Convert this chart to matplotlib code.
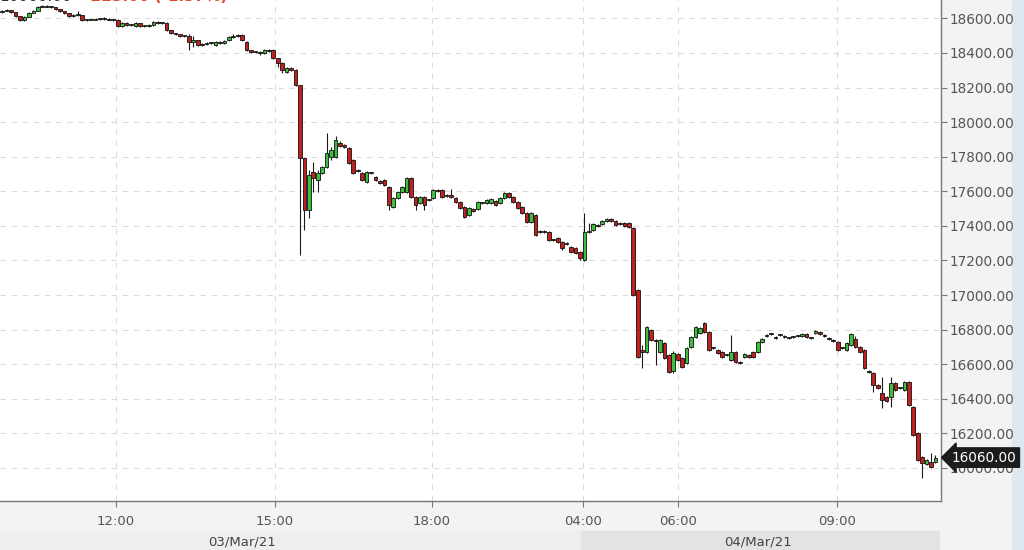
import numpy as np
import matplotlib.pyplot as plt
from matplotlib.patches import Rectangle
from matplotlib.transforms import blended_transform_factory

# 5-minute candles, 03/Mar/21 09:50 session through 04/Mar/21 morning
OPEN = [
    18636, 18642, 18648, 18636, 18613, 18590, 18608, 18631, 18642, 18665,
    18671, 18668, 18665, 18654, 18642, 18631, 18613, 18619, 18619, 18590,
    18593, 18593, 18596, 18596, 18599, 18593, 18593, 18555, 18573, 18561,
    18555, 18573, 18555, 18555, 18561, 18579, 18573, 18573, 18532, 18515,
    18509, 18498, 18498, 18463, 18475, 18446, 18451, 18457, 18446, 18463,
    18457, 18475, 18492, 18498, 18503, 18463, 18417, 18405, 18405, 18399,
    18411, 18417, 18370, 18342, 18290, 18313, 18301, 18214, 17792, 17492,
    17711, 17665, 17706, 17740, 17798, 17798, 17879, 17867, 17850, 17781,
    17723, 17706, 17653, 17706, 17682, 17659, 17665, 17625, 17509, 17561,
    17596, 17596, 17677, 17567, 17532, 17567, 17550, 17561, 17607, 17607,
    17573, 17578, 17561, 17538, 17509, 17463, 17497, 17497, 17532, 17532,
    17532, 17544, 17532, 17561, 17590, 17567, 17538, 17509, 17474, 17422,
    17463, 17364, 17370, 17364, 17318, 17330, 17307, 17295, 17278, 17272,
    17249, 17203, 17364, 17376, 17405, 17411, 17428, 17440, 17428, 17411,
    17416, 17416, 17388, 17029, 16682, 16670, 16798, 16740, 16670, 16723,
    16653, 16561, 16659, 16636, 16607, 16699, 16757, 16780, 16838, 16786,
    16694, 16682, 16670, 16653, 16624, 16670, 16613, 16642, 16653, 16670,
    16670, 16728, 16763, 16775, 16757, 16769, 16763, 16752, 16757, 16763,
    16763, 16775, 16752, 16780, 16786, 16769, 16752, 16740, 16728, 16694,
    16682, 16711, 16746, 16699, 16682, 16561, 16549, 16480, 16433, 16410,
    16410, 16491, 16462, 16451, 16497, 16352, 16202, 16063, 16023, 16035,
    16035,
]
HIGH = [
    18648, 18654, 18648, 18636, 18613, 18613, 18636, 18648, 18671, 18677,
    18677, 18671, 18665, 18654, 18642, 18631, 18625, 18642, 18619, 18599,
    18599, 18602, 18602, 18605, 18602, 18596, 18596, 18579, 18579, 18567,
    18579, 18573, 18561, 18567, 18584, 18584, 18579, 18579, 18532, 18515,
    18509, 18503, 18509, 18498, 18475, 18457, 18463, 18463, 18469, 18469,
    18475, 18498, 18509, 18509, 18509, 18469, 18417, 18411, 18411, 18423,
    18423, 18423, 18370, 18347, 18318, 18318, 18307, 18214, 17792, 17723,
    17769, 17723, 17746, 17937, 17856, 17919, 17891, 17873, 17856, 17787,
    17729, 17711, 17717, 17711, 17688, 17665, 17671, 17630, 17567, 17601,
    17630, 17682, 17682, 17573, 17573, 17573, 17555, 17613, 17613, 17613,
    17584, 17613, 17567, 17544, 17515, 17509, 17503, 17544, 17538, 17555,
    17561, 17550, 17567, 17596, 17596, 17573, 17544, 17515, 17480, 17480,
    17469, 17376, 17376, 17370, 17324, 17336, 17312, 17307, 17284, 17278,
    17255, 17474, 17416, 17416, 17411, 17434, 17445, 17445, 17434, 17422,
    17422, 17422, 17393, 17035, 16711, 16821, 16804, 16746, 16746, 16728,
    16659, 16676, 16665, 16642, 16699, 16763, 16821, 16815, 16844, 16792,
    16699, 16688, 16676, 16659, 16769, 16676, 16618, 16665, 16659, 16676,
    16734, 16752, 16775, 16780, 16763, 16775, 16769, 16757, 16763, 16769,
    16780, 16780, 16757, 16798, 16792, 16775, 16757, 16746, 16734, 16699,
    16728, 16780, 16763, 16705, 16688, 16566, 16555, 16486, 16526, 16416,
    16526, 16497, 16468, 16503, 16503, 16358, 16208, 16069, 16052, 16087,
    16075,
]
LOW = [
    18631, 18642, 18631, 18608, 18584, 18584, 18608, 18631, 18642, 18665,
    18665, 18660, 18648, 18636, 18625, 18608, 18608, 18613, 18584, 18584,
    18588, 18590, 18590, 18593, 18588, 18584, 18550, 18550, 18555, 18555,
    18550, 18550, 18550, 18550, 18555, 18567, 18567, 18527, 18509, 18503,
    18492, 18492, 18417, 18434, 18440, 18440, 18446, 18451, 18440, 18451,
    18451, 18469, 18486, 18492, 18469, 18411, 18399, 18399, 18388, 18394,
    18405, 18365, 18318, 18284, 18284, 18295, 18208, 17232, 17376, 17445,
    17596, 17596, 17700, 17734, 17781, 17792, 17856, 17850, 17757, 17700,
    17711, 17659, 17648, 17700, 17659, 17642, 17630, 17492, 17503, 17555,
    17590, 17590, 17561, 17492, 17526, 17492, 17544, 17555, 17596, 17561,
    17567, 17561, 17532, 17497, 17445, 17457, 17480, 17492, 17526, 17526,
    17526, 17515, 17526, 17555, 17561, 17532, 17497, 17468, 17416, 17416,
    17341, 17359, 17359, 17312, 17312, 17301, 17260, 17289, 17243, 17237,
    17203, 17197, 17359, 17370, 17393, 17405, 17422, 17422, 17399, 17405,
    17393, 17388, 16994, 16636, 16578, 16665, 16734, 16595, 16665, 16630,
    16549, 16549, 16618, 16578, 16601, 16694, 16752, 16775, 16780, 16676,
    16688, 16659, 16636, 16647, 16618, 16607, 16601, 16636, 16636, 16636,
    16665, 16723, 16757, 16769, 16746, 16763, 16752, 16746, 16752, 16757,
    16757, 16752, 16746, 16775, 16769, 16757, 16740, 16728, 16676, 16688,
    16676, 16705, 16694, 16665, 16572, 16549, 16439, 16457, 16347, 16381,
    16352, 16445, 16457, 16445, 16358, 16185, 16040, 15942, 16017, 16000,
    16029,
]
CLOSE = [
    18642, 18648, 18636, 18613, 18590, 18608, 18631, 18642, 18665, 18671,
    18668, 18665, 18654, 18642, 18631, 18613, 18619, 18619, 18590, 18593,
    18593, 18596, 18596, 18599, 18593, 18590, 18555, 18573, 18561, 18561,
    18573, 18555, 18555, 18561, 18579, 18573, 18573, 18532, 18515, 18509,
    18498, 18498, 18463, 18475, 18446, 18451, 18457, 18457, 18463, 18457,
    18469, 18492, 18498, 18503, 18475, 18417, 18405, 18405, 18399, 18417,
    18417, 18370, 18342, 18301, 18313, 18301, 18214, 17792, 17492, 17694,
    17677, 17706, 17740, 17821, 17839, 17896, 17862, 17856, 17763, 17706,
    17717, 17665, 17711, 17706, 17665, 17648, 17636, 17521, 17561, 17596,
    17625, 17677, 17567, 17521, 17567, 17521, 17550, 17607, 17601, 17567,
    17578, 17567, 17538, 17503, 17451, 17503, 17486, 17538, 17532, 17550,
    17555, 17521, 17561, 17590, 17567, 17538, 17503, 17474, 17422, 17474,
    17347, 17370, 17364, 17318, 17318, 17307, 17272, 17301, 17249, 17243,
    17214, 17364, 17364, 17411, 17399, 17428, 17440, 17428, 17405, 17416,
    17399, 17393, 17000, 16642, 16670, 16815, 16740, 16734, 16740, 16636,
    16555, 16665, 16624, 16584, 16694, 16757, 16815, 16809, 16786, 16682,
    16694, 16665, 16642, 16653, 16670, 16613, 16607, 16659, 16642, 16642,
    16728, 16746, 16769, 16775, 16752, 16769, 16757, 16752, 16757, 16763,
    16775, 16757, 16752, 16792, 16775, 16763, 16746, 16734, 16682, 16694,
    16723, 16775, 16699, 16670, 16578, 16555, 16480, 16462, 16393, 16387,
    16491, 16451, 16462, 16497, 16364, 16191, 16046, 16029, 16046, 16006,
    16060,
]

# hour marks (in candle slots) and their labels
TICK_SLOTS = [25.6, 61.4, 96.7, 130.7, 152.1, 187.8]
TICK_LABELS = ['12:00', '15:00', '18:00', '04:00', '06:00', '09:00']
DAY_LABELS = ['03/Mar/21', '04/Mar/21']
Y_TICKS = list(range(16000, 18601, 200))
HEADER_PRICE = '16060.00'
HEADER_CHANGE = '-223.00 (-1.37%)'

UP_COLOR = '#3dbf3d'
DOWN_COLOR = '#c0211f'

W, H = 1024, 550
fig = plt.figure(figsize=(W / 100, H / 100), dpi=100)
fig.patch.set_facecolor('#f3f3f3')

# right-hand light blue strip and date band
fig.add_artist(Rectangle((1012 / W, 0), 12 / W, 1, transform=fig.transFigure,
                         color='#dfe7ef', zorder=0))
fig.add_artist(Rectangle((0, 0), 581 / W, 19 / H, transform=fig.transFigure,
                         color='#eeeeee', zorder=0))
fig.add_artist(Rectangle((581 / W, 0), 358 / W, 19 / H, transform=fig.transFigure,
                         color='#e3e3e3', zorder=0))

ax = fig.add_axes([0, 49 / H, 941 / W, 501 / H])
ax.set_facecolor('white')

o = np.array(OPEN, dtype=float)
hi = np.array(HIGH, dtype=float)
lo = np.array(LOW, dtype=float)
c = np.array(CLOSE, dtype=float)
x = np.arange(len(c))

colors = np.where(c >= o, UP_COLOR, DOWN_COLOR)
ax.vlines(x, lo, hi, color='#1a1a1a', lw=0.8, zorder=2)
body_bottom = np.minimum(o, c)
body_height = np.maximum(np.abs(c - o), 4)
ax.bar(x, body_height, bottom=body_bottom, width=0.82, color=colors,
       edgecolor='#111111', linewidth=0.6, zorder=3)

ax.set_xlim(-0.5, 211.24)
ax.set_ylim(15809, 18706)

ax.set_xticks(TICK_SLOTS)
ax.set_xticklabels(TICK_LABELS)
ax.set_yticks(Y_TICKS)
ax.set_yticklabels([f'{v:.2f}' for v in Y_TICKS])
ax.yaxis.tick_right()
ax.tick_params(axis='y', direction='out', length=4, width=0.8, colors='#777777',
               labelcolor='#555555', labelsize=9.8, pad=2)
ax.tick_params(axis='x', direction='out', length=4, width=0.8, colors='#777777',
               labelcolor='#555555', labelsize=9.5, pad=6)

for side in ['top', 'left']:
    ax.spines[side].set_visible(False)
for side in ['right', 'bottom']:
    ax.spines[side].set_color('#777777')
    ax.spines[side].set_linewidth(1.0)

ax.grid(True, color='#dcdcdc', lw=0.8, linestyle=(0, (5, 5)), zorder=0)
ax.set_axisbelow(True)

# last price marker
trans = blended_transform_factory(ax.transAxes, ax.transData)
ax.text(1.0117, CLOSE[-1], f'{CLOSE[-1]:.2f}', transform=trans, ha='left', va='center',
        color='white', fontsize=9.8, clip_on=False, zorder=10,
        bbox=dict(boxstyle='larrow,pad=0.2', fc='#1c1c1c', ec='#1c1c1c'))

# header text, mostly cut off by the top edge
fig.text(72 / W, 1 - 1 / H, HEADER_PRICE, ha='right', va='baseline', fontsize=11,
         color='#333333')
fig.text(84 / W, 1 - 1 / H, HEADER_CHANGE, ha='left', va='baseline', fontsize=11,
         color='#e0462a', fontweight='bold')

# day labels in the bottom band
fig.text(242 / W, 8 / H, DAY_LABELS[0], ha='center', va='center', fontsize=9.5,
         color='#444444')
fig.text(758 / W, 8 / H, DAY_LABELS[1], ha='center', va='center', fontsize=9.5,
         color='#444444')

fig.savefig('out.png', dpi=100, facecolor=fig.get_facecolor())
